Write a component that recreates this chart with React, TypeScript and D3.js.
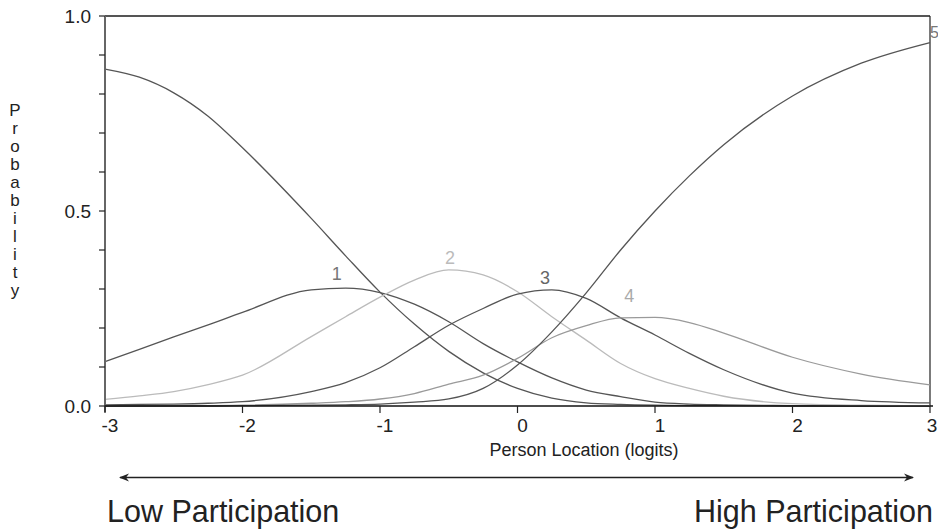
import React from "react";
import * as d3 from "d3";

// Person location (logits) sample points
const xs = [-3, -2.75, -2.5, -2.25, -2, -1.5, -1.25, -1, -0.75, -0.5, -0.25, 0, 0.25, 0.5, 0.75, 1, 1.25, 1.5, 2, 2.5, 3];

// Category probability curves
const cat0 = [0.864, 0.843, 0.803, 0.743, 0.662, 0.481, 0.385, 0.292, 0.21, 0.14, 0.085, 0.045, 0.02, 0.008, 0.004, 0.002, 0.001, 0.001, 0, 0, 0];
const cat1 = [0.114, 0.145, 0.177, 0.208, 0.24, 0.298, 0.302, 0.291, 0.261, 0.216, 0.16, 0.113, 0.072, 0.041, 0.024, 0.01, 0.005, 0.003, 0.001, 0, 0];
const cat2 = [0.017, 0.026, 0.037, 0.055, 0.079, 0.178, 0.229, 0.279, 0.323, 0.349, 0.336, 0.293, 0.229, 0.169, 0.109, 0.07, 0.045, 0.025, 0.006, 0.002, 0.001];
const cat3 = [0.003, 0.004, 0.005, 0.007, 0.011, 0.037, 0.06, 0.098, 0.152, 0.207, 0.25, 0.287, 0.298, 0.276, 0.226, 0.182, 0.135, 0.093, 0.033, 0.014, 0.008];
const cat4 = [0, 0, 0.001, 0.001, 0.002, 0.007, 0.011, 0.018, 0.032, 0.056, 0.079, 0.122, 0.175, 0.206, 0.226, 0.227, 0.214, 0.187, 0.125, 0.082, 0.054];
const cat5 = [0, 0, 0, 0, 0.001, 0.002, 0.003, 0.005, 0.01, 0.018, 0.045, 0.105, 0.19, 0.29, 0.4, 0.5, 0.59, 0.67, 0.795, 0.879, 0.932];

const series = [cat0, cat1, cat2, cat3, cat4, cat5];
const seriesColors = ["#555", "#555", "#bbb", "#555", "#9a9a9a", "#555"];

const curveLabels = ["1", "2", "3", "4", "5"];
const labelX = [-1.315, -0.49, 0.2, 0.813, 3.0];
const labelP = [0.324, 0.364, 0.313, 0.267, 0.944];
const labelColors = ["#777", "#bbb", "#666", "#aaa", "#777"];

const xTicks = [-3, -2, -1, 0, 1, 2, 3];
const yMinorTicks = [0.1, 0.2, 0.3, 0.4, 0.6, 0.7, 0.8, 0.9];
const yLabeled = [0, 0.5, 1];
const yTitle = "Probability";
const xTitle = "Person Location (logits)";

export default function App() {
  const W = 938, H = 529;
  const x = d3.scaleLinear().domain([-3, 3]).range([105, 930]);
  const y = d3.scaleLinear().domain([0, 1]).range([406, 16]);
  const line = d3
    .line<number>()
    .x((_, i) => x(xs[i]))
    .y((d) => y(d))
    .curve(d3.curveMonotoneX);
  const font = "'Liberation Sans', Arial, sans-serif";

  return (
    <svg
      width={W}
      height={H}
      style={{ position: "absolute", left: 0, top: 0, background: "#fff" }}
      fontFamily={font}
    >
      <defs>
        <marker id="ah" viewBox="0 0 10 10" refX="9" refY="5" markerWidth="10" markerHeight="10" orient="auto-start-reverse" markerUnits="userSpaceOnUse">
          <path d="M0,1 L10,5 L0,9 L3,5 Z" fill="#222" />
        </marker>
      </defs>

      {/* frame */}
      <line x1={x(-3)} x2={x(3)} y1={y(1)} y2={y(1)} stroke="#555" strokeWidth={2} />
      <line x1={x(3)} x2={x(3)} y1={y(1)} y2={y(0)} stroke="#222" strokeWidth={1.2} />

      {/* curves */}
      {series.map((s, i) => (
        <path key={i} d={line(s) || ""} fill="none" stroke={seriesColors[i]} strokeWidth={1.3} />
      ))}

      {/* y axis */}
      <line x1={x(-3)} x2={x(-3)} y1={y(1)} y2={y(0) + 6} stroke="#666" strokeWidth={2} />
      {yMinorTicks.concat(yLabeled).map((t) => (
        <line key={t} x1={x(-3) - 6} x2={x(-3)} y1={y(t)} y2={y(t)} stroke="#222" strokeWidth={1.2} />
      ))}
      {yLabeled.map((t) => (
        <text key={t} x={91} y={y(t)} dy="0.36em" textAnchor="end" fontSize={19} fill="#222">
          {t.toFixed(1)}
        </text>
      ))}
      {yTitle.split("").map((c, i) => (
        <text key={i} x={15} y={110 + i * 18} dy="0.36em" textAnchor="middle" fontSize={17} fill="#222">
          {c}
        </text>
      ))}

      {/* x axis */}
      <line x1={x(-3)} x2={x(3) + 3} y1={y(0)} y2={y(0)} stroke="#111" strokeWidth={1.5} />
      {xTicks.map((t) => (
        <g key={t}>
          <line x1={x(t)} x2={x(t)} y1={y(0)} y2={y(0) + 7} stroke="#222" strokeWidth={1.2} />
          <text x={t === 3 ? x(t) + 2 : x(t) + 5} y={432} textAnchor="middle" fontSize={19} fill="#222">
            {t}
          </text>
        </g>
      ))}
      <text x={584} y={456} textAnchor="middle" fontSize={18} fill="#222">
        {xTitle}
      </text>

      {/* curve labels */}
      {curveLabels.map((l, i) => (
        <text
          key={l}
          x={x(labelX[i])}
          y={y(labelP[i])}
          textAnchor={i === 4 ? "start" : "middle"}
          fontSize={i === 4 ? 16 : 18}
          fill={labelColors[i]}
        >
          {l}
        </text>
      ))}

      {/* direction arrow */}
      <line x1={120} x2={913} y1={477.5} y2={477.5} stroke="#222" strokeWidth={1.3} markerStart="url(#ah)" markerEnd="url(#ah)" />
      <text x={107} y={522} fontSize={30.5} fill="#222">Low Participation</text>
      <text x={933} y={522} textAnchor="end" fontSize={30.5} fill="#222">High Participation</text>
    </svg>
  );
}
